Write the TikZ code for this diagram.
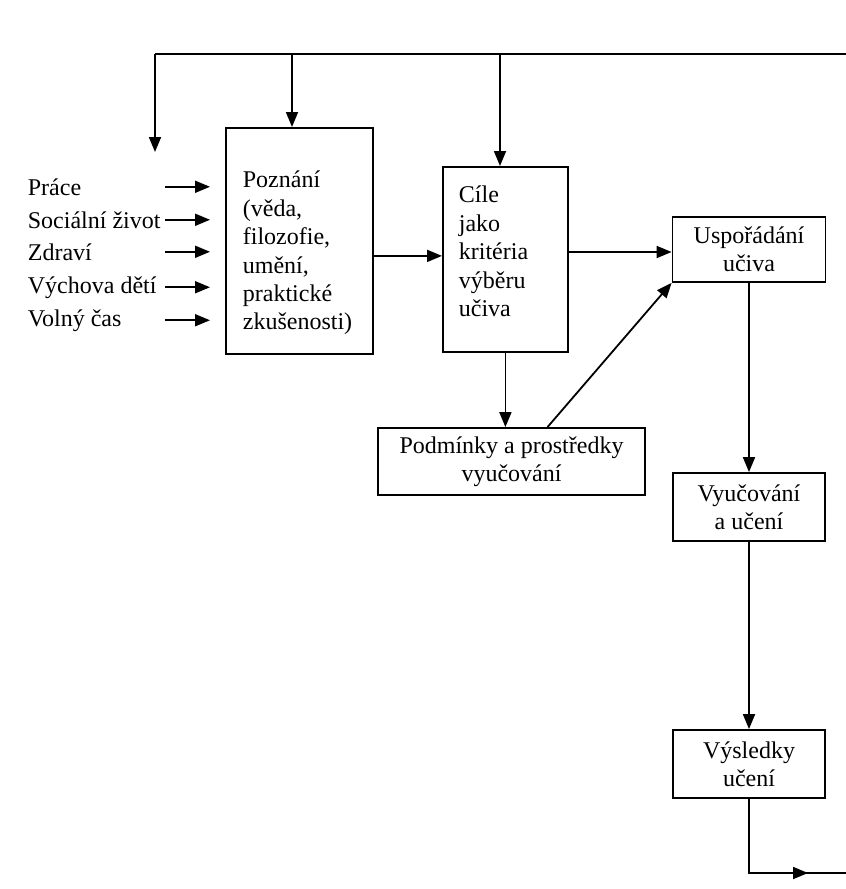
\documentclass[tikz,border=0pt]{standalone}
\usepackage{fontspec}
\setmainfont{Liberation Serif}
\usetikzlibrary{positioning}
\usetikzlibrary{arrows.meta}
\tikzset{>={Triangle[length=7.5pt,width=6pt]}}

\begin{document}
\begin{tikzpicture}[x=0.5pt, y=-0.5pt, line width=0.9pt]
% Define styles
\tikzstyle{box} = [rectangle, draw, fill=white, align=center, inner sep=0pt, font=\fontsize{12pt}{14.2pt}\selectfont]
\tikzstyle{tallbox} = [box, align=left, anchor=north west]
\tikzstyle{source} = [anchor=base west, inner sep=0pt, font=\fontsize{12pt}{14.2pt}\selectfont]
\useasboundingbox (0,0) rectangle (846,889);
% Define nodes
\node[tallbox, inner xsep=8.5pt, text width=56.5pt, text height=30pt, text depth=83pt] (poznani) at (225,127) {Poznání\\(věda,\\filozofie,\\umění,\\praktické\\zkušenosti)};
\node[tallbox, inner xsep=8pt, text width=46.5pt, text height=18pt, text depth=74.5pt] (cile) at (442,166) {Cíle\\jako\\kritéria\\výběru\\učiva};
\node[box, minimum width=76.5pt, minimum height=32.5pt] (usporadani) at (749,249.5) {Uspořádání\\učiva};
\node[box, minimum width=133.5pt, minimum height=33.5pt] (podminky) at (511.5,461.5) {Podmínky a prostředky\\vyučování};
\node[box, minimum width=76pt, minimum height=34pt] (vyucovani) at (749,507) {Vyučování\\a učení};
\node[box, minimum width=76pt, minimum height=34pt] (vysledky) at (749,764) {Výsledky\\učení};
\node[source] (prace) at (27,195) {Práce};
\node[source] (socialni) at (27,228) {Sociální život};
\node[source] (zdravi) at (27,260) {Zdraví};
\node[source] (vychova) at (27,293) {Výchova dětí};
\node[source] (volny) at (27,326) {Volný čas};
% Free ends of the feedback loop
\coordinate (topright) at (846,54);
\coordinate (topleft) at (155,54);
\coordinate (leftend) at (155,152);
\coordinate (dropA) at (292,54);
\coordinate (dropB) at (500,54);
\coordinate (tail) at (165,0);
\coordinate (botmid) at (808,873);
\coordinate (botright) at (846,873);
% Connect the nodes
\draw (topright) -- (topleft);
\draw[->] (topleft) -- (leftend);
\draw[->] (dropA) -- (dropA |- poznani.north);
\draw[->] (dropB) -- (dropB |- cile.north);
\foreach \src in {prace, socialni, zdravi, vychova, volny}
  \draw[->, shorten >=7.5pt] (\src.center -| tail) -- (\src.center -| poznani.west);
\draw[->] ([yshift=1.75pt]cile.west -| poznani.east) -- ([yshift=1.75pt]cile.west);
\draw[->] ([yshift=-1.25pt]usporadani.west -| cile.east) -- ([yshift=-1.25pt]usporadani.west);
\draw[->] (cile.south) -- (cile.south |- podminky.north);
\draw[->] ([xshift=18pt]podminky.north) -- (usporadani.south west);
\draw[->] (usporadani.south) -- (vyucovani.north);
\draw[->] (vyucovani.south) -- (vysledky.north);
\draw (vysledky.south) |- (botright);
\draw[->] (vysledky.south |- botright) -- (botmid);
\end{tikzpicture}
\end{document}
